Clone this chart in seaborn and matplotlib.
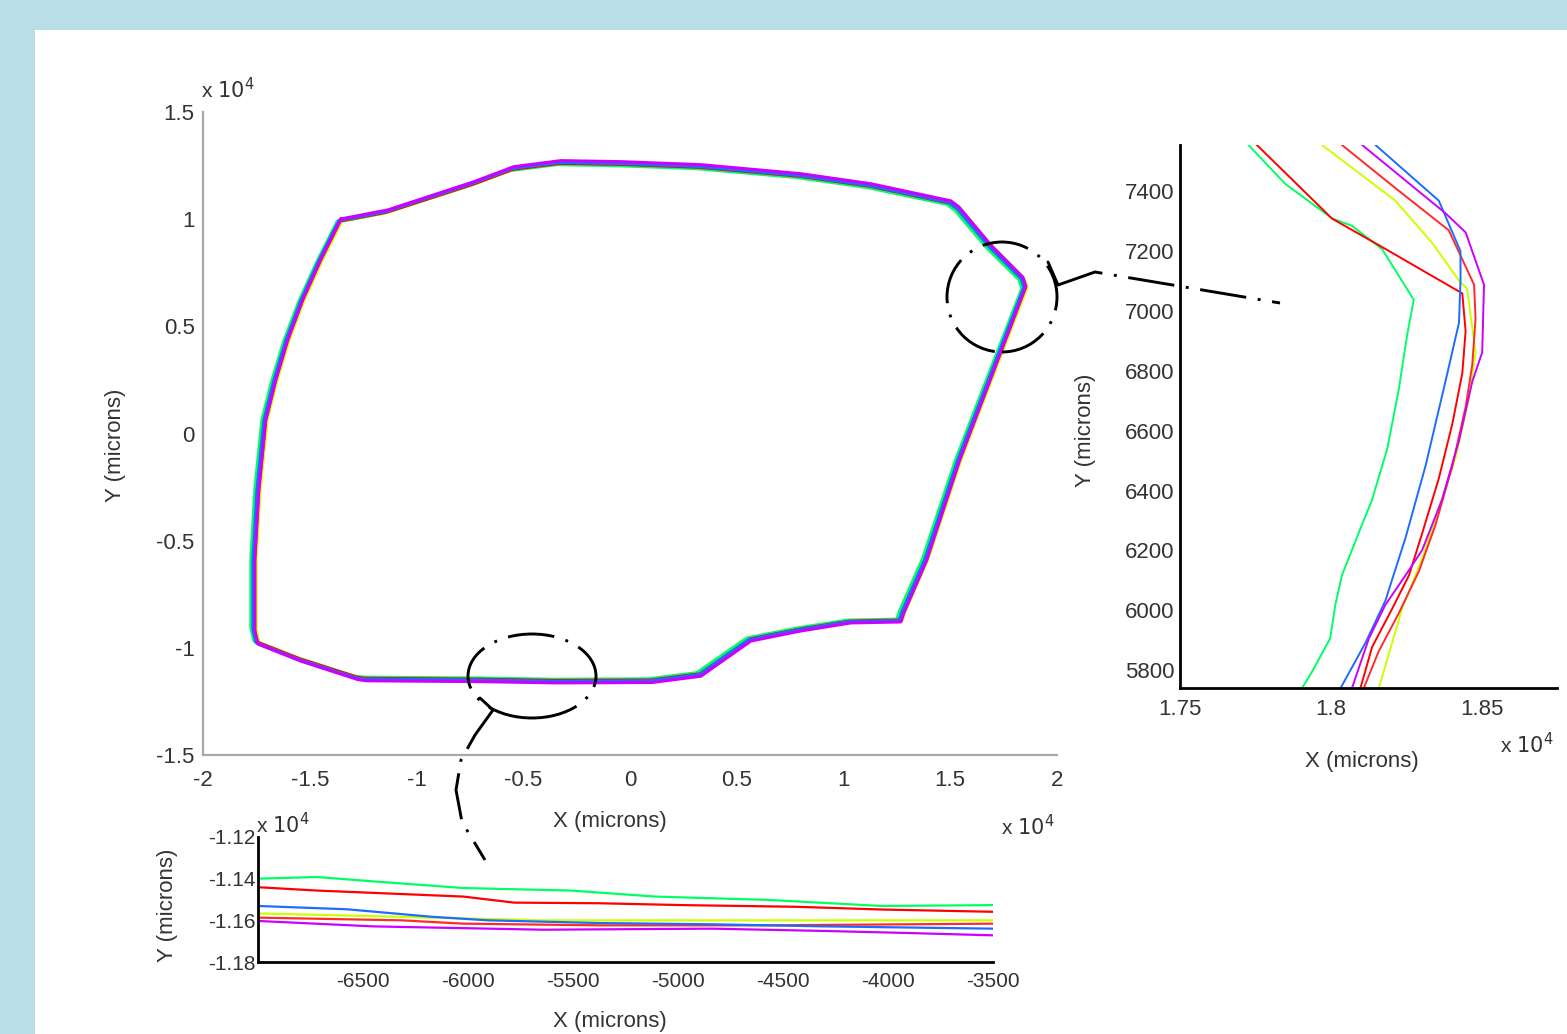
import numpy as np
import pandas as pd
import seaborn as sns
import matplotlib.pyplot as plt
from matplotlib.patches import Ellipse, Rectangle
from matplotlib.lines import Line2D

W, H = 1567, 1034

# contorno de la pieza (micras), vista general
outline_x = [-13583, -11382, -7354, -5480, -3279, -468, 3279, 7963, 11241, 14988,
             15363, 16862, 18361, 18501, 17190, 15400, 13850, 12787, 12646, 10304,
             7963, 5621, 3279, 1000, -3500, -7000, -12400, -12800, -15457, -17471,
             -17611, -17611, -17424, -17096, -16628, -16066, -15363, -14520, -13583]
outline_y = [9961, 10381, 11688, 12388, 12668, 12621, 12481, 12061, 11595, 10801,
             10521, 8748, 7255, 6835, 3429, -1237, -5902, -8329, -8749, -8795,
             -9168, -9635, -11269, -11560, -11580, -11520, -11480, -11420, -10568, -9775,
             -9168, -5902, -2636, 630, 2496, 4363, 6229, 8095, 9961]

trace_names = ['verde', 'amarillo', 'rojo1', 'rojo2', 'azul', 'magenta']
trace_colors = ['#00ff66', '#ccff00', '#ff0000', '#ff2a2a', '#1f6bff', '#cc00ff']
# desplazamiento de cada medida respecto al contorno
trace_dx = [-150, 100, 0, 30, -50, 40]
trace_sy = [0.990, 0.998, 0.995, 1.000, 0.998, 1.005]

# detalle esquina derecha
corner_verde_x = [17727, 17849, 18004, 18070, 18170, 18275, 18253, 18225, 18187, 18137, 18092, 18037, 18015, 17998, 17937, 17904]
corner_verde_y = [7555, 7425, 7310, 7285, 7207, 7038, 6919, 6736, 6539, 6370, 6257, 6117, 6018, 5906, 5793, 5739]
corner_amarillo_x = [17971, 18214, 18336, 18425, 18452, 18480, 18458, 18414, 18358, 18303, 18236, 18159]
corner_amarillo_y = [7555, 7369, 7228, 7102, 7074, 6862, 6708, 6511, 6342, 6173, 6004, 5739]
corner_rojo1_x = [17755, 18004, 18170, 18436, 18447, 18436, 18403, 18358, 18303, 18259, 18203, 18137, 18098]
corner_rojo1_y = [7555, 7309, 7214, 7059, 6933, 6792, 6623, 6440, 6257, 6116, 6004, 5877, 5739]
corner_rojo2_x = [18037, 18214, 18391, 18475, 18480, 18469, 18447, 18403, 18347, 18292, 18225, 18159, 18109]
corner_rojo2_y = [7555, 7411, 7270, 7088, 6975, 6820, 6679, 6482, 6285, 6130, 5989, 5863, 5739]
corner_azul_x = [18148, 18358, 18430, 18430, 18425, 18380, 18314, 18248, 18181, 18115, 18032]
corner_azul_y = [7555, 7369, 7200, 7102, 6961, 6764, 6482, 6243, 6032, 5891, 5739]
corner_magenta_x = [18104, 18380, 18447, 18508, 18502, 18469, 18425, 18369, 18303, 18248, 18181, 18126, 18070]
corner_magenta_y = [7555, 7327, 7263, 7088, 6862, 6764, 6567, 6370, 6201, 6117, 6018, 5905, 5739]

# detalle borde inferior
bottom_verde_x = [-7000, -6720, -6452, -6022, -5511, -5108, -4570, -4032, -3500]
bottom_verde_y = [-11400, -11392, -11413, -11445, -11457, -11486, -11502, -11531, -11527]
bottom_amarillo_x = [-7000, -6452, -5645, -4839, -4032, -3500]
bottom_amarillo_y = [-11567, -11580, -11600, -11600, -11600, -11600]
bottom_rojo1_x = [-7000, -6720, -6022, -5780, -5376, -4973, -4435, -4032, -3500]
bottom_rojo1_y = [-11441, -11457, -11486, -11515, -11518, -11527, -11535, -11548, -11559]
bottom_rojo2_x = [-7000, -6317, -6022, -5376, -4570, -3500]
bottom_rojo2_y = [-11587, -11600, -11616, -11624, -11624, -11616]
bottom_azul_x = [-7000, -6575, -6172, -5903, -5376, -4839, -4301, -3500]
bottom_azul_y = [-11531, -11547, -11583, -11600, -11613, -11619, -11629, -11640]
bottom_magenta_x = [-7000, -6452, -5645, -4839, -4301, -3898, -3500]
bottom_magenta_y = [-11603, -11629, -11645, -11640, -11651, -11661, -11672]

main_xticks = [-20000, -15000, -10000, -5000, 0, 5000, 10000, 15000, 20000]
main_xlabels = ['-2', '-1.5', '-1', '-0.5', '0', '0.5', '1', '1.5', '2']
main_yticks = [-15000, -10000, -5000, 0, 5000, 10000, 15000]
main_ylabels = ['-1.5', '-1', '-0.5', '0', '0.5', '1', '1.5']
corner_xticks = [17500, 18000, 18500]
corner_xlabels = ['1.75', '1.8', '1.85']
corner_yticks = [5800, 6000, 6200, 6400, 6600, 6800, 7000, 7200, 7400]
bottom_xticks = [-6500, -6000, -5500, -5000, -4500, -4000, -3500]
bottom_yticks = [-11800, -11600, -11400, -11200]
bottom_ylabels = ['-1.18', '-1.16', '-1.14', '-1.12']


def px(x, y):
    return x / W, 1 - y / H


def detalle(prefix):
    g = globals()
    frames = []
    for name in trace_names:
        frames.append(pd.DataFrame({'x': g[f'{prefix}_{name}_x'],
                                    'y': g[f'{prefix}_{name}_y'],
                                    'trace': name}))
    return pd.concat(frames, ignore_index=True)


sns.set_style('white')
plt.rcParams['font.family'] = ['Liberation Sans', 'DejaVu Sans']
txt = '#333333'

fig = plt.figure(figsize=(W / 100, H / 100), dpi=100, facecolor='#b9dee6')
fig.add_artist(Rectangle(px(35, 1034), 1 - 35 / W, 1 - 30 / H, transform=fig.transFigure,
                         facecolor='white', edgecolor='none', zorder=-10))

# --- vista general
ax = fig.add_axes([203 / W, 1 - 755 / H, 854 / W, 643 / H])
ax.patch.set_alpha(0)
rows = []
for name, dx, sy in zip(trace_names, trace_dx, trace_sy):
    for x, y in zip(outline_x, outline_y):
        rows.append((name, x + dx, y * sy))
main_df = pd.DataFrame(rows, columns=['trace', 'x', 'y'])
sns.lineplot(data=main_df, x='x', y='y', hue='trace', hue_order=trace_names,
             palette=trace_colors, sort=False, estimator=None, lw=2.2, legend=False, ax=ax)
ax.set_xlim(-20000, 20000)
ax.set_ylim(-15000, 15000)
ax.set_xticks(main_xticks, main_xlabels)
ax.set_yticks(main_yticks, main_ylabels)
ax.set_xlabel('')
ax.set_ylabel('')
sns.despine(ax=ax)
for s in ['left', 'bottom']:
    ax.spines[s].set_color('#a8a8a8')
    ax.spines[s].set_linewidth(1.6)
ax.tick_params(direction='in', length=7, width=1.3, color='#a8a8a8', labelsize=16, labelcolor=txt)
ax.tick_params(axis='x', pad=11)
ax.tick_params(axis='y', pad=6)

# --- detalle esquina
ax2 = fig.add_axes([1180 / W, 1 - 688 / H, 377 / W, 543 / H])
ax2.patch.set_alpha(0)
sns.lineplot(data=detalle('corner'), x='x', y='y', hue='trace', hue_order=trace_names,
             palette=trace_colors, sort=False, estimator=None, lw=1.4, legend=False, ax=ax2)
ax2.set_xlim(17500, 18750)
ax2.set_ylim(5740, 7555)
ax2.set_xticks(corner_xticks, corner_xlabels)
ax2.set_yticks(corner_yticks)
ax2.set_xlabel('')
ax2.set_ylabel('')
sns.despine(ax=ax2)
for s in ['left', 'bottom']:
    ax2.spines[s].set_color('black')
    ax2.spines[s].set_linewidth(2)
ax2.tick_params(direction='in', length=6, width=1.5, color='black', labelsize=16, labelcolor=txt)
ax2.tick_params(axis='x', pad=8)
ax2.tick_params(axis='y', pad=4)

# --- detalle borde inferior
ax3 = fig.add_axes([258 / W, 1 - 962 / H, 735 / W, 125 / H])
ax3.patch.set_alpha(0)
sns.lineplot(data=detalle('bottom'), x='x', y='y', hue='trace', hue_order=trace_names,
             palette=trace_colors, sort=False, estimator=None, lw=1.6, legend=False, ax=ax3)
ax3.set_xlim(-7000, -3500)
ax3.set_ylim(-11800, -11200)
ax3.set_xticks(bottom_xticks, [str(v) for v in bottom_xticks])
ax3.set_yticks(bottom_yticks, bottom_ylabels)
ax3.set_xlabel('')
ax3.set_ylabel('')
sns.despine(ax=ax3)
for s in ['left', 'bottom']:
    ax3.spines[s].set_color('black')
    ax3.spines[s].set_linewidth(2)
ax3.tick_params(direction='in', length=6, width=1.5, color='black', labelsize=15, labelcolor=txt)
ax3.tick_params(axis='x', pad=7)
ax3.tick_params(axis='y', pad=2)

# textos de ejes
fs = 16
fig.text(*px(610, 821), 'X (microns)', ha='center', va='center', fontsize=fs, color=txt)
fig.text(*px(115, 445), 'Y (microns)', ha='center', va='center', rotation=90, fontsize=fs, color=txt)
fig.text(*px(228, 90), r'x $10^4$', ha='center', va='center', fontsize=15, color=txt)
fig.text(*px(1028, 827), r'x $10^4$', ha='center', va='center', fontsize=15, color=txt)
fig.text(*px(1362, 762), 'X (microns)', ha='center', va='center', fontsize=fs, color=txt)
fig.text(*px(1085, 430), 'Y (microns)', ha='center', va='center', rotation=90, fontsize=fs, color=txt)
fig.text(*px(1527, 745), r'x $10^4$', ha='center', va='center', fontsize=15, color=txt)
fig.text(*px(610, 1021), 'X (microns)', ha='center', va='center', fontsize=fs, color=txt)
fig.text(*px(168, 905), 'Y (microns)', ha='center', va='center', rotation=90, fontsize=fs, color=txt)
fig.text(*px(283, 825), r'x $10^4$', ha='center', va='center', fontsize=15, color=txt)

# marcas de zoom (elipses y conectores punto-raya)
dashdot = (0, (16, 4, 1, 4))
for cx, cy, ew, eh in [(1002, 297, 110, 110), (532, 676, 128, 84)]:
    fig.add_artist(Ellipse(px(cx, cy), ew / W, eh / H, transform=fig.transFigure, fill=False,
                           ec='black', lw=2.1, ls=dashdot, zorder=5))
conectores = [
    [(1048, 262), (1058, 285)],
    [(1058, 285), (1095, 272), (1280, 303)],
    [(480, 698), (493, 710)],
    [(493, 710), (475, 735), (461, 760), (456, 790), (462, 822), (485, 860)],
]
for pts in conectores:
    xs, ys = zip(*[px(a, b) for a, b in pts])
    fig.add_artist(Line2D(xs, ys, transform=fig.transFigure, color='black', lw=2.1,
                          ls=dashdot if len(pts) > 2 else '-', zorder=5))

fig.savefig('out.png', dpi=100)
